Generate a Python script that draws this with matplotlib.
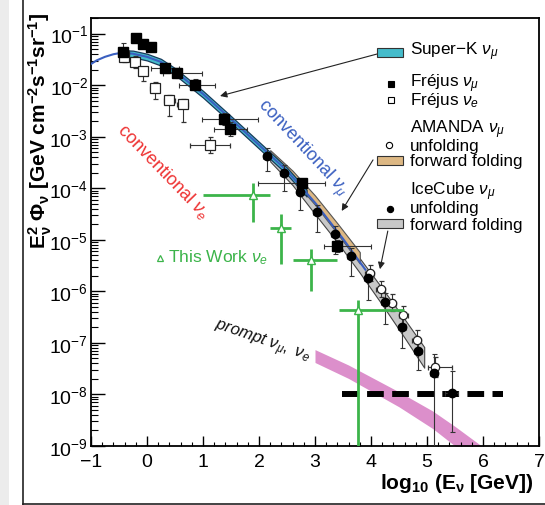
import matplotlib
matplotlib.use('Agg')
import matplotlib.pyplot as plt
from matplotlib.patches import Rectangle
from matplotlib.lines import Line2D
from matplotlib.ticker import LogLocator, NullFormatter, MultipleLocator
import numpy as np

plt.rcParams['font.family'] = ['Liberation Sans', 'DejaVu Sans']
plt.rcParams['mathtext.fontset'] = 'custom'
plt.rcParams['mathtext.rm'] = 'Liberation Sans'
plt.rcParams['mathtext.it'] = 'Liberation Sans:italic'
plt.rcParams['mathtext.bf'] = 'Liberation Sans:bold'

# all values: x = log10(E/GeV), y = log10(E^2 Phi)
conv_x = [-1.0, -0.9, -0.75, -0.6, -0.5, -0.4, -0.25, 0.0, 0.25, 0.5, 0.75, 1.0, 1.5, 2.0, 2.5, 3.0, 3.5, 3.9]
conv_y = [-1.59, -1.52, -1.45, -1.40, -1.38, -1.375, -1.39, -1.45, -1.55, -1.73, -1.95, -2.17, -2.66, -3.16, -3.66, -4.28, -4.98, -5.58]

sk_x = [-0.5, -0.25, 0.0, 0.25, 0.5, 0.75, 1.0, 1.5, 2.0, 2.5, 2.85]
sk_hi = [-1.32, -1.33, -1.39, -1.49, -1.67, -1.89, -2.11, -2.60, -3.10, -3.60, -4.03]
sk_lo = [-1.45, -1.46, -1.52, -1.62, -1.80, -2.02, -2.24, -2.73, -3.23, -3.73, -4.16]

amff_x = [2.2, 2.6, 3.0, 3.4, 3.8]
amff_hi = [-3.26, -3.66, -4.14, -4.68, -5.24]
amff_lo = [-3.40, -3.82, -4.32, -4.88, -5.46]

icff_x = [2.2, 2.6, 3.0, 3.4, 3.8, 4.2, 4.6, 4.95]
icff_hi = [-3.36, -3.78, -4.30, -4.81, -5.36, -5.94, -6.54, -7.08]
icff_lo = [-3.48, -3.94, -4.50, -5.05, -5.64, -6.26, -6.90, -7.48]

prompt_x = [3.0, 3.6, 4.5, 5.1, 5.5, 6.0]
prompt_hi = [-7.13, -7.43, -7.95, -8.32, -8.62, -9.02]
prompt_lo = [-7.38, -7.69, -8.24, -8.66, -9.0, -9.45]

limit_x = [3.475, 6.36]
limit_y = [-8.0, -8.0]

fm_x = [-0.42, -0.20, -0.07, 0.07, 0.33, 0.54, 0.85, 1.37, 1.49, 2.76, 3.40]
fm_y = [-1.36, -1.09, -1.20, -1.25, -1.67, -1.77, -1.99, -2.66, -2.85, -3.89, -5.12]
fm_xlo = [0.10, 0.0, 0.0, 0.0, 0.25, 0.25, 0.27, 0.38, 0.30, 0.78, 0.24]
fm_xhi = [0.10, 0.0, 0.0, 0.0, 0.25, 0.45, 0.36, 0.62, 0.30, 0.42, 0.60]
fm_dy = [0.18, 0.03, 0.03, 0.03, 0.08, 0.10, 0.10, 0.12, 0.14, 0.06, 0.12]

fe_x = [-0.41, -0.21, -0.07, 0.14, 0.40, 0.64, 1.13]
fe_y = [-1.45, -1.545, -1.73, -2.06, -2.29, -2.37, -3.16]
fe_xlo = [0.0, 0.0, 0.0, 0.08, 0.10, 0.10, 0.36]
fe_xhi = [0.0, 0.0, 0.0, 0.08, 0.10, 0.10, 0.35]
fe_dlo = [0.10, 0.12, 0.18, 0.20, 0.30, 0.34, 0.16]
fe_dhi = [0.10, 0.12, 0.08, 0.12, 0.10, 0.10, 0.16]

am_x = [3.98, 4.17, 4.37, 4.58, 4.82, 5.14]
am_y = [-5.64, -5.95, -6.22, -6.46, -6.94, -7.47]
am_xlo = [0.08, 0.08, 0.08, 0.08, 0.08, 0.12]
am_xhi = [0.08, 0.08, 0.08, 0.08, 0.08, 0.30]
am_dy = [0.15, 0.15, 0.17, 0.18, 0.20, 0.20]

ic_x = [2.14, 2.45, 2.74, 3.04, 3.35, 3.64, 3.95, 4.25, 4.55, 4.84, 5.13, 5.44]
ic_y = [-3.37, -3.70, -4.08, -4.47, -4.88, -5.31, -5.75, -6.21, -6.69, -7.15, -7.58, -7.98]
ic_xerr = [0.07, 0.07, 0.07, 0.07, 0.07, 0.07, 0.07, 0.07, 0.07, 0.07, 0.07, 0.12]
ic_dlo = [0.30, 0.35, 0.35, 0.38, 0.40, 0.40, 0.42, 0.42, 0.40, 0.38, 1.60, 0.74]
ic_dhi = [0.15, 0.15, 0.15, 0.15, 0.15, 0.15, 0.15, 0.18, 0.20, 0.20, 0.36, 0.43]

tw_x = [1.90, 2.39, 2.93, 3.76]
tw_y = [-4.14, -4.78, -5.39, -6.36]
tw_xlo = [0.90, 0.19, 0.33, 0.34]
tw_xhi = [0.30, 0.19, 0.46, 0.83]
tw_dlo = [0.52, 0.69, 0.60, 3.0]
tw_dhi = [0.25, 0.28, 0.22, 0.20]


def P(v):
    return 10.0 ** np.asarray(v, dtype=float)


def yerrs(y, lo, hi):
    y = np.asarray(y, dtype=float)
    return [P(y) - P(y - np.asarray(lo)), P(y + np.asarray(hi)) - P(y)]


W, H = 545, 506
fig = plt.figure(figsize=(W / 100, H / 100), dpi=100)
ax = fig.add_axes([91 / W, (H - 447) / H, (539 - 91) / W, (447 - 19) / H])


def fp(x, y):
    # figure pixel (from top-left) -> figure fraction
    return x / W, 1 - y / H


GREEN = '#3cb44a'
BLUE = '#3a5fc0'

# bands
ax.fill_between(prompt_x, P(prompt_lo), P(prompt_hi), color='#dc8fcb', lw=0, zorder=1)
ax.fill_between(icff_x, P(icff_lo), P(icff_hi), facecolor='#c8c8c8', edgecolor='#444444', lw=0.8, zorder=2)
ax.fill_between(amff_x, P(amff_lo), P(amff_hi), facecolor='#ddb884', edgecolor='#555555', lw=0.8, zorder=2)
ax.fill_between(sk_x, P(sk_lo), P(sk_hi), facecolor='#45bccb', edgecolor='#173a5c', lw=0.9, zorder=3)
ax.plot(conv_x, P(conv_y), color=BLUE, lw=1.5, zorder=4)

# limit
ax.plot(limit_x, P(limit_y), color='black', lw=4.3, dashes=(2.8, 1.4), zorder=5)

ekw = dict(ecolor='#333333', elinewidth=0.8, capsize=1.8, capthick=0.8, zorder=6)
ax.errorbar(fe_x, P(fe_y), xerr=[fe_xlo, fe_xhi], yerr=yerrs(fe_y, fe_dlo, fe_dhi), fmt='s', ms=6.5,
            mfc='white', mec='#222222', mew=0.9, **ekw)
ax.errorbar(fm_x, P(fm_y), xerr=[fm_xlo, fm_xhi], yerr=yerrs(fm_y, fm_dy, fm_dy), fmt='s', ms=6.5,
            mfc='black', mec='black', **ekw)
ax.errorbar(am_x, P(am_y), xerr=[am_xlo, am_xhi], yerr=yerrs(am_y, am_dy, am_dy), fmt='o', ms=6,
            mfc='white', mec='#222222', mew=0.9, **ekw)
ax.errorbar(ic_x, P(ic_y), xerr=ic_xerr, yerr=yerrs(ic_y, ic_dlo, ic_dhi), fmt='o', ms=6,
            mfc='black', mec='black', **ekw)

ax.errorbar(tw_x, P(tw_y), xerr=[tw_xlo, tw_xhi], yerr=yerrs(tw_y, tw_dlo, tw_dhi), fmt='^', ms=6,
            mfc='white', mec=GREEN, mew=1.0, ecolor=GREEN, elinewidth=2.0, capsize=0, zorder=7)

# axes
ax.set_xlim(-1, 7)
ax.set_yscale('log')
ax.set_ylim(1e-9, 10 ** -0.697)
ax.set_yticks(P(np.arange(-9, 0)))
ax.yaxis.set_minor_locator(LogLocator(base=10, subs=np.arange(2, 10), numticks=20))
ax.yaxis.set_minor_formatter(NullFormatter())
ax.xaxis.set_major_locator(MultipleLocator(1))
ax.xaxis.set_minor_locator(MultipleLocator(0.2))
ax.tick_params(axis='y', which='major', direction='in', length=10, width=1.0, labelsize=14, pad=2)
ax.tick_params(axis='y', which='minor', direction='in', length=5, width=0.8)
ax.tick_params(axis='x', which='major', direction='in', length=7, width=1.0, labelsize=14, pad=5)
ax.tick_params(axis='x', which='minor', direction='in', length=3, width=0.8)
for s in ax.spines.values():
    s.set_linewidth(1.3)

fig.text(*fp(40, 131), r'$\mathbf{E^{2}_{\nu}\ \Phi_{\nu}\ [GeV\ cm^{-2}s^{-1}sr^{-1}]}$',
         rotation=90, ha='center', va='center', fontsize=15)
fig.text(*fp(533, 484), r'$\mathbf{log_{10}\ (E_{\nu}\ [GeV])}$', ha='right', va='center', fontsize=15)

# in-plot labels
fig.text(*fp(302, 148), r'conventional $\nu_{\mu}$', color=BLUE, fontsize=13, rotation=-47,
         ha='center', va='center')
fig.text(*fp(163, 172), r'conventional $\nu_{e}$', color='#ee3333', fontsize=13, rotation=-46,
         ha='center', va='center')
fig.text(*fp(168, 258), r'This Work $\nu_{e}$', color=GREEN, fontsize=12.5, ha='left', va='center')
ax.plot(*fp(160, 259), marker='^', ms=5, mfc='white', mec=GREEN, mew=0.9,
        transform=fig.transFigure, clip_on=False)
fig.text(*fp(262, 342), r'$prompt\ \nu_{\mu},\ \nu_{e}$', color='#111111', fontsize=12, rotation=-19,
         ha='center', va='center')

# legend entries
legend_rects = [(49, '#45bccb'), (157, '#ddb884'), (220, '#c8c8c8')]
for top, c in legend_rects:
    x0, y0 = fp(377, top + 9)
    fig.add_artist(Rectangle((x0, y0), 26 / W, 9 / H, transform=fig.transFigure,
                             facecolor=c, edgecolor='#333333', lw=0.8))
mk = [(391, 85, 's', 'black'), (391, 101, 's', 'white'), (389, 146, 'o', 'white'), (390, 210, 'o', 'black')]
for mx, my, m, fc in mk:
    ax.plot(*fp(mx, my), marker=m, ms=5 if m == 's' else 4.5, mfc=fc, mec='black', mew=0.8,
            transform=fig.transFigure, clip_on=False)
leg_text = [(52, r'Super$-$K $\nu_{\mu}$'), (84, r'Fréjus $\nu_{\mu}$'), (100, r'Fréjus $\nu_{e}$'),
            (130, r'AMANDA $\nu_{\mu}$'), (146, 'unfolding'), (162, 'forward folding'),
            (192, r'IceCube $\nu_{\mu}$'), (208, 'unfolding'), (226, 'forward folding')]
for ty, t in leg_text:
    fig.text(*fp(410, ty), t, fontsize=12.3, ha='left', va='center')

# arrows to the bands
arrows = [((4.107, -1.396), (1.304, -2.21)), ((4.036, -3.45), (3.477, -4.44)), ((4.30, -4.83), (4.16, -5.57))]
for (tx, ty), (hx, hy) in arrows:
    ax.annotate('', xy=(hx, 10 ** hy), xytext=(tx, 10 ** ty),
                arrowprops=dict(arrowstyle='-|>', color='#222222', lw=0.8, mutation_scale=10,
                                shrinkA=0, shrinkB=0), annotation_clip=False, zorder=8)

# slide frame around the picture
fig.add_artist(Rectangle((0, 0), 9 / W, 1, transform=fig.transFigure, color='#ececec', lw=0))
fig.add_artist(Line2D([22.5 / W, 22.5 / W], [0, 1], color='#222222', lw=1.2))
fig.add_artist(Line2D([22.5 / W, 1], [0.8 / H, 0.8 / H], color='#222222', lw=1.2))

fig.savefig('out.png', dpi=100)
